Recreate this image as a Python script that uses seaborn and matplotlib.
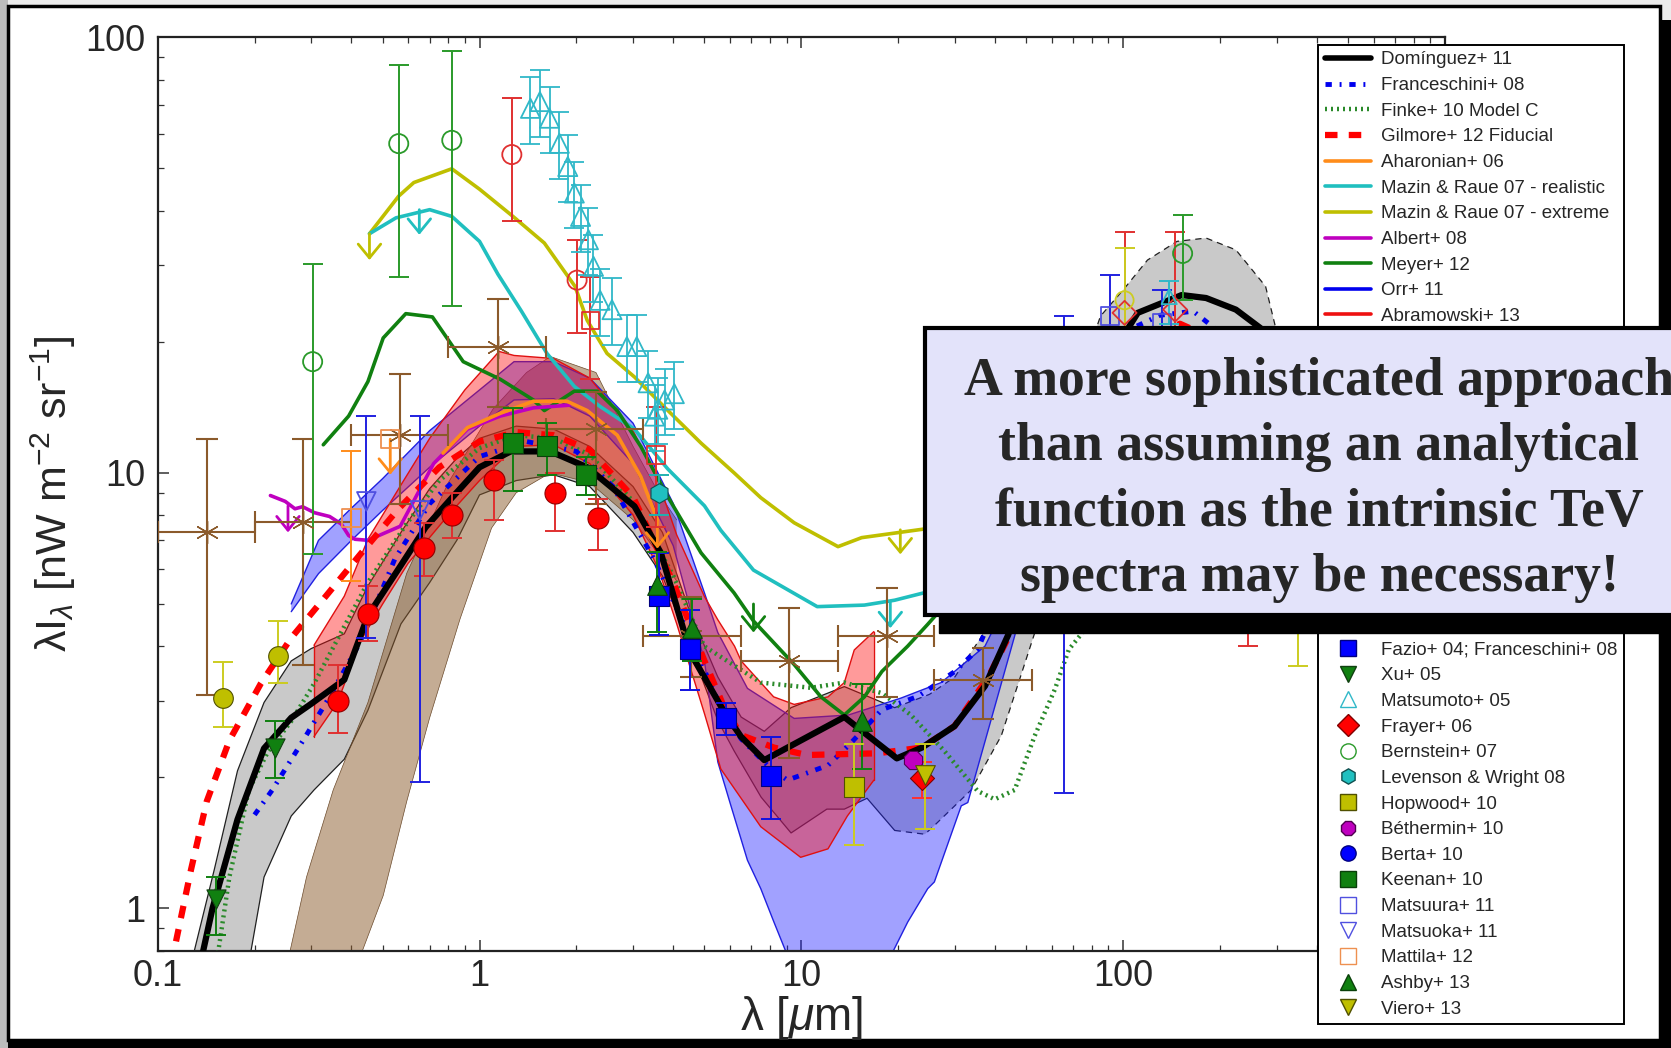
import numpy as np
import matplotlib
matplotlib.use("Agg")
import matplotlib.pyplot as plt
import seaborn as sns
from matplotlib.patches import Rectangle, Patch
from matplotlib.lines import Line2D
from matplotlib.ticker import FixedLocator, FixedFormatter, LogLocator, NullFormatter

# ------------------------------------------------------------------ data
# model curves
dom_x = [0.138, 0.148, 0.177, 0.214, 0.26, 0.30, 0.38, 0.45, 0.567, 0.68, 0.81, 1.0, 1.25, 1.66, 2.16, 3.03, 3.66, 4.52, 5.75, 6.49, 7.67, 13.6, 19.8, 23.7, 29.9, 37.2, 43.9, 55, 70, 85, 111, 152, 181, 224, 267, 350, 450]
dom_y = [0.79, 1.0, 1.6, 2.33, 2.74, 2.95, 3.35, 4.7, 6.1, 7.5, 8.67, 10.3, 11.2, 11.2, 10.3, 8.38, 6.55, 3.86, 2.83, 2.48, 2.19, 2.75, 2.21, 2.34, 2.62, 3.24, 4.24, 7.0, 12.0, 17.0, 23.3, 25.6, 25.2, 23.7, 21.5, 13, 7]

dom_up_x = [0.13, 0.150, 0.177, 0.214, 0.26, 0.30, 0.38, 0.45, 0.57, 0.7, 0.85, 1.0, 1.3, 1.7, 2.2, 3.0, 3.7, 4.5, 5.5, 6.5, 7.67, 9.29, 13.6, 19.5, 25, 30, 37, 45, 55, 70, 85, 100, 119, 147, 181, 224, 277, 297, 350, 420]
dom_up_y = [0.8, 1.23, 2.07, 2.97, 3.7, 3.95, 4.27, 5.5, 7.3, 9.2, 10.8, 12.0, 12.8, 12.6, 11.5, 9.3, 7.3, 4.8, 3.4, 2.75, 2.55, 2.89, 3.23, 2.89, 3.1, 3.4, 4.3, 6.0, 9, 15, 22.9, 26.3, 30.8, 34.0, 34.6, 32.5, 26.8, 21.7, 13, 7]
dom_lo_x = [0.195, 0.214, 0.26, 0.306, 0.38, 0.45, 0.57, 0.7, 0.85, 1.0, 1.3, 1.7, 2.2, 3.0, 3.7, 4.5, 5.5, 6.18, 7.5, 9.29, 12, 13.6, 16, 19.5, 24.2, 25.9, 33.7, 41.8, 53.1, 65, 80, 100, 150, 200, 300, 420]
dom_lo_y = [0.8, 1.18, 1.63, 1.87, 2.2, 2.85, 4.5, 5.6, 7.0, 8.9, 9.6, 9.9, 9.3, 7.3, 5.8, 4.0, 2.7, 2.3, 1.8, 1.49, 1.69, 1.69, 1.79, 1.51, 1.48, 1.55, 1.87, 2.49, 4.29, 7, 11, 15, 18, 16, 10, 6]

fra_x = [0.2, 0.227, 0.283, 0.342, 0.426, 0.546, 0.7, 1.0, 1.4, 2.0, 2.6, 3.5, 4.5, 5.5, 6.5, 8.0, 9.05, 12.1, 14.2, 17.8, 23.1, 30, 35.3, 45, 60, 80, 100, 130, 165, 200, 280]
fra_y = [1.64, 1.87, 2.43, 3.06, 4.09, 6.35, 8.5, 10.9, 11.8, 11.2, 9.3, 6.3, 4.2, 3.0, 2.45, 2.1, 1.97, 2.13, 2.39, 2.86, 3.07, 3.5, 3.93, 6, 11, 17, 21, 23, 23.5, 21, 13]

fin_x = [0.154, 0.167, 0.192, 0.22, 0.26, 0.306, 0.38, 0.45, 0.59, 0.75, 1.0, 1.3, 1.7, 2.2, 3.0, 4.0, 4.99, 7.48, 10.7, 13.6, 17.8, 21.9, 27.8, 35.3, 39.9, 46, 53.1, 61.3, 67.8, 74.6, 90, 120, 160, 220, 300]
fin_y = [0.79, 1.18, 1.87, 2.29, 2.69, 3.28, 4.44, 5.6, 7.6, 9.6, 11.4, 12.2, 12.0, 11.0, 8.6, 5.8, 4.0, 3.30, 3.21, 3.30, 3.12, 2.78, 2.3, 1.86, 1.78, 1.87, 2.49, 3.18, 3.93, 4.29, 7, 14, 20, 19, 12]

gil_x = [0.114, 0.127, 0.142, 0.167, 0.209, 0.26, 0.333, 0.426, 0.56, 0.75, 1.0, 1.3, 1.7, 2.2, 3.0, 4.0, 5.0, 5.75, 6.5, 8.22, 10.4, 17.2, 23.7, 29.9, 38.2, 44.7, 60, 80, 110, 150, 200, 300]
gil_y = [0.84, 1.23, 1.76, 2.43, 3.28, 4.18, 5.21, 6.5, 8.27, 10.3, 11.8, 12.4, 12.2, 11.3, 8.8, 5.6, 3.7, 2.9, 2.5, 2.34, 2.25, 2.27, 2.34, 2.62, 3.41, 4.29, 8, 13, 19, 22, 20, 12]

aha_x = [0.77, 0.917, 1.16, 1.47, 1.87, 2.16, 2.68, 3.17, 3.57]
aha_y = [11.1, 12.7, 13.7, 14.6, 14.6, 13.9, 12.2, 9.8, 7.8]

mrr_x = [0.455, 0.55, 0.70, 0.82, 1.0, 1.14, 1.35, 1.62, 1.97, 2.37, 3.03, 3.85, 5.0, 5.62, 7.1, 11.2, 15.7, 19.5, 24.7, 35, 50]
mrr_y = [35.4, 38.5, 40.2, 38.8, 34, 28.6, 23.5, 18.8, 15.8, 14.2, 12.6, 10.2, 8.4, 7.38, 5.98, 4.93, 4.97, 5.1, 5.33, 6, 7]

mre_x = [0.455, 0.561, 0.625, 0.82, 1.0, 1.27, 1.59, 1.98, 2.16, 2.49, 3.03, 3.85, 4.88, 6.18, 7.48, 9.5, 13.0, 15.4, 24.7, 35, 50]
mre_y = [35.4, 43.2, 46.4, 49.9, 44.8, 38.8, 33.7, 26.8, 22.4, 18.8, 16.6, 13.9, 11.7, 10.0, 8.77, 7.68, 6.77, 7.1, 7.45, 8, 9]

alb_x = [0.224, 0.249, 0.267, 0.282, 0.307, 0.342, 0.372, 0.392, 0.41, 0.45, 0.567, 0.72, 0.917, 1.16, 1.47, 1.9]
alb_y = [8.87, 8.6, 8.27, 8.36, 8.1, 7.94, 7.63, 7.18, 7.04, 7.0, 7.54, 10.5, 12.6, 13.5, 14.1, 14.3]

mey_x = [0.327, 0.392, 0.45, 0.502, 0.59, 0.714, 0.89, 1.16, 1.47, 1.59, 1.97, 2.32, 2.68, 3.17, 3.85, 4.88, 6.18, 7.1, 9.5, 11.5, 13.6, 15.7, 17.8, 21.4, 24.7, 35]
mey_y = [11.6, 13.5, 16.2, 20.4, 23.2, 22.8, 18.0, 16.4, 14.7, 13.9, 15.4, 15.4, 13.9, 11.5, 8.8, 6.55, 5.3, 4.57, 3.63, 3.06, 2.78, 3.06, 3.5, 4.0, 4.49, 6]

# shaded bands
orr_up_x = [0.26, 0.316, 0.4, 0.5, 0.7, 1.0, 1.28, 1.7, 2.2, 3.0, 4.0, 5.0, 5.5, 6.8, 9.5, 14, 20.4, 27.2, 37.2, 46, 55, 65]
orr_up_y = [5.0, 7.0, 8.3, 9.7, 12.5, 15.5, 18.0, 18.0, 16.5, 13.0, 8.5, 5.3, 4.3, 3.2, 2.73, 2.78, 3.04, 3.3, 4.0, 5.5, 8, 11]
orr_lo_x = [0.26, 0.316, 0.4, 0.5, 0.7, 1.0, 1.28, 1.7, 2.2, 3.0, 4.0, 5.0, 5.5, 6.0, 6.8, 7.48, 8.22, 9.05, 19.0, 21.4, 24.7, 25.9, 31.4, 32.9, 46.0, 55, 65]
orr_lo_y = [4.8, 5.87, 7.0, 8.2, 10.3, 12.8, 14.7, 14.8, 13.5, 10.5, 6.8, 3.7, 2.17, 1.75, 1.29, 1.11, 0.93, 0.78, 0.78, 0.93, 1.11, 1.15, 1.72, 1.75, 4.22, 7, 11]

abr_up_x = [0.306, 0.38, 0.45, 0.576, 0.7, 0.9, 1.1, 1.15, 1.28, 1.7, 2.2, 3.0, 3.6, 4.1, 5.0, 5.5, 6.2, 6.5, 8.2, 9.5, 12.1, 13.6, 14.6, 16.8]
abr_up_y = [4.02, 5.21, 7.04, 9.5, 12.0, 15.5, 18.3, 19.0, 18.6, 18.3, 16.5, 12.5, 9.5, 7.2, 5.2, 4.6, 4.0, 3.7, 3.06, 2.94, 3.06, 3.30, 3.92, 4.32]
abr_lo_x = [0.306, 0.362, 0.426, 0.5, 0.6, 0.8, 1.0, 1.3, 1.7, 2.2, 3.0, 3.6, 4.1, 5.0, 5.62, 7.48, 9.95, 12.1, 13.9, 16.8]
abr_lo_y = [2.48, 2.97, 4.1, 5.0, 6.2, 8.0, 9.6, 11.5, 11.6, 10.5, 8.0, 6.0, 4.5, 2.8, 2.09, 1.54, 1.31, 1.37, 1.63, 1.97]

ack_up_x = [0.257, 0.29, 0.351, 0.45, 0.594, 0.8, 1.1, 1.4, 1.66, 2.3, 3.0, 3.6, 4.1]
ack_up_y = [0.79, 1.18, 1.87, 2.97, 5.88, 9.5, 14, 17, 18.5, 17, 11.5, 9, 7.8]
ack_lo_x = [0.43, 0.502, 0.594, 0.70, 0.87, 1.09, 1.3, 1.66, 2.2, 3.0, 3.6, 4.1]
ack_lo_y = [0.79, 1.07, 1.76, 2.74, 4.62, 7.47, 9.0, 10.0, 9.5, 7.8, 6.5, 5.64]

# data points  (x, y, y_low, y_high)
faz_x = [3.6, 4.5, 5.83, 8.04]
faz_y = [5.21, 3.94, 2.73, 2.01]
faz_lo = [4.25, 3.18, 2.5, 1.6]
faz_hi = [6.55, 4.84, 2.96, 2.48]

xu_x = [0.152, 0.232]
xu_y = [1.05, 2.34]
xu_lo = [0.87, 1.99]
xu_hi = [1.18, 2.69]

mat5_x = [1.44, 1.54, 1.65, 1.77, 1.88, 1.97, 2.06, 2.18, 2.26, 2.37, 2.58, 2.87, 3.08, 3.34, 3.5, 3.58, 3.76, 4.03]
mat5_y = [68.7, 71.2, 65.2, 57.1, 50.5, 43.9, 38.8, 34.3, 29.8, 24.9, 23.7, 19.5, 19.5, 16.1, 13.5, 14.0, 14.7, 15.2]

fra6_x = [23.7]
fra6_y = [1.99]
fra6_lo = [1.79]
fra6_hi = [2.17]

ber7_x = [0.303, 0.561, 0.82]
ber7_y = [18.0, 57.0, 58.0]
ber7_lo = [6.5, 28.2, 24.2]
ber7_hi = [30.2, 86.4, 92.8]

lev_x = [3.6]
lev_y = [8.98]
lev_lo = [8.0]
lev_hi = [9.9]

hop_x = [14.6]
hop_y = [1.895]
hop_lo = [1.395]
hop_hi = [2.38]

bet_x = [22.2, 70, 160]
bet_y = [2.19, 7.0, 12.0]

berta_x = [100, 160]
berta_y = [11.0, 14.0]

kee_x = [1.27, 1.62, 2.14]
kee_y = [11.7, 11.5, 9.9]
kee_lo = [9.07, 9.9, 8.9]
kee_hi = [14.1, 13.0, 10.9]

mtu_x = [65.5, 91.2, 132]
mtu_y = [12.0, 22.9, 22.1]
mtu_lo = [1.84, 18.0, 18.0]
mtu_hi = [22.9, 28.5, 26.3]

mtk_x = [0.445, 0.653]
mtk_y = [8.6, 8.2]
mtk_lo = [4.18, 1.95]
mtk_hi = [13.5, 13.5]

mtl_x = [0.4, 0.528]
mtl_y = [7.86, 11.95]
mtl_lo = [5.65, 11.95]
mtl_hi = [11.2, 11.95]

ash_x = [3.57, 4.58, 15.4]
ash_y = [5.54, 4.4, 2.70]
ash_lo = [4.32, 3.7, 2.09]
ash_hi = [6.57, 5.13, 3.28]

vie_x = [24.2, 250, 350, 500]
vie_y = [2.02, 10.0, 6.5, 3.5]
vie_lo = [1.52, 5.0, 3.6, 2.0]
vie_hi = [2.38, 14.0, 9.0, 5.0]

# data sets whose legend entries sit under the text box
mp_x = [0.362, 0.45, 0.67, 0.82, 1.11, 1.71, 2.34]
mp_y = [3.0, 4.75, 6.73, 8.0, 9.64, 8.98, 7.87]
mp_lo = [2.53, 4.1, 5.79, 7.08, 7.8, 7.35, 6.66]
mp_hi = [3.63, 5.5, 7.68, 8.98, 10.7, 10.0, 8.7]

gar_x = [0.159, 0.237]
gar_y = [3.04, 3.8]
gar_lo = [2.61, 3.29]
gar_hi = [3.67, 4.57]

cam_x = [1.26, 2.01]
cam_y = [53.8, 27.7]
cam_lo = [37.8, 20.9]
cam_hi = [72.5, 34.3]

lev7_x = [2.21, 3.53]
lev7_y = [22.4, 11.0]
lev7_lo = [16.4, 7.5]
lev7_hi = [28.2, 14.2]

ast_x = [0.142, 0.282, 0.567, 1.14, 2.30, 4.54, 9.17, 18.5, 36.7]
ast_y = [7.33, 7.7, 12.2, 19.5, 12.6, 4.22, 3.7, 4.22, 3.35]
ast_xlo = [0.1, 0.2, 0.4, 0.797, 1.61, 3.21, 6.49, 13.0, 25.9]
ast_xhi = [0.2, 0.4, 0.797, 1.61, 3.21, 6.49, 13.0, 25.9, 51.9]
ast_lo = [3.09, 3.63, 8.5, 14.2, 8.5, 3.4, 2.21, 3.06, 2.72]
ast_hi = [11.95, 11.95, 16.9, 25.1, 15.3, 5.2, 4.89, 5.43, 3.96]

ode_x = [101, 145, 245]
ode_y = [23.3, 23.7, 8.0]
ode_lo = [15.0, 15.0, 4.0]
ode_hi = [35.8, 35.8, 11.0]

hau_x = [153]
hau_y = [31.9]
hau_lo = [25.0]
hau_hi = [39.1]

gor_x = [101]
gor_y = [24.9]
gor_lo = [19.0]
gor_hi = [32.8]

wri_x = [139]
wri_y = [25.4]
wri_lo = [22.0]
wri_hi = [27.5]

# upper-limit arrows: x, start y, end y
arr_x = [0.455, 0.65, 0.528, 0.254, 3.57, 7.1, 18.9, 20.3]
arr_y0 = [35.4, 40.2, 11.95, 8.4, 7.8, 5.0, 5.06, 7.4]
arr_y1 = [30.8, 35.2, 9.9, 7.3, 6.7, 4.3, 4.4, 6.5]
arr_c = ['#bfbf00', '#20bfbf', '#ff8c1a', '#bf00bf', '#ff8c1a', '#108010', '#20bfbf', '#bfbf00']

tick_x = [0.1, 1, 10, 100]
tick_x_lab = ['0.1', '1', '10', '100']
tick_y = [1, 10, 100]
tick_y_lab = ['1', '10', '100']

# ------------------------------------------------------------------ style
sns.set_style("ticks")
plt.rcParams['font.family'] = ['Liberation Sans', 'DejaVu Sans']
plt.rcParams['mathtext.fontset'] = 'custom'
plt.rcParams['mathtext.rm'] = 'Liberation Sans'
plt.rcParams['mathtext.it'] = 'Liberation Sans:italic'
plt.rcParams['mathtext.bf'] = 'Liberation Sans:bold'

W, H = 1671, 1048
fig = plt.figure(figsize=(W / 100, H / 100), dpi=100)
fig.patch.set_facecolor('#ececec')


def fx(px):
    return px / W


def fy(py):
    return 1 - py / H


# slide frame
fig.add_artist(Rectangle((0, 0), fx(8), 1, transform=fig.transFigure,
                         facecolor='#bcbcbc', edgecolor='none', zorder=-5))
fig.add_artist(Rectangle((fx(8), -0.05), 1.0, fy(20) + 0.05, transform=fig.transFigure,
                         facecolor='black', edgecolor='none', zorder=-4))
fig.add_artist(Rectangle((fx(8), fy(1040)), fx(1660 - 8), (1040 - 6) / H,
                         transform=fig.transFigure, facecolor='white',
                         edgecolor='black', lw=2.5, zorder=-3))

ax = fig.add_axes([157.7 / W, 1 - 950.6 / H, (1445 - 157.7) / W, (950.6 - 37.3) / H])
ax.set_facecolor('white')
ax.set_xscale('log')
ax.set_yscale('log')


def edge(x, y, ec, lw, split, z):
    x = np.asarray(x, float)
    y = np.asarray(y, float)
    if split is None:
        ax.plot(x, y, color=ec, lw=lw, zorder=z)
        return
    a = x <= split
    b = x >= x[a][-1]
    ax.plot(x[a], y[a], color=ec, lw=lw, zorder=z)
    ax.plot(x[b], y[b], color=ec, lw=lw, ls=(0, (5, 4)), zorder=z)


def band(xu, yu, xl, yl, fc, alpha, ec, lw=0.8, z=1, split=None):
    px = list(xu) + list(xl)[::-1]
    py = list(yu) + list(yl)[::-1]
    ax.fill(px, py, facecolor=fc, alpha=alpha, edgecolor='none', zorder=z)
    edge(xu, yu, ec, lw, split, z + 0.1)
    edge(xl, yl, ec, lw, split, z + 0.1)


band(dom_up_x, dom_up_y, dom_lo_x, dom_lo_y, '#808080', 0.42, '#202020', lw=0.9, z=1, split=22)
band(ack_up_x, ack_up_y, ack_lo_x, ack_lo_y, '#8b5a2b', 0.5, '#6b4a2b', lw=0.5, z=1.2)
band(orr_up_x, orr_up_y, orr_lo_x, orr_lo_y, '#2020ff', 0.42, '#2020e0', lw=1.0, z=1.4)
band(abr_up_x, abr_up_y, abr_lo_x, abr_lo_y, '#ff1010', 0.42, '#e01010', lw=1.0, z=1.6)
ax.plot([abr_up_x[0], abr_lo_x[0]], [abr_up_y[0], abr_lo_y[0]], color='#e01010', lw=1.0, zorder=1.7)
ax.plot([abr_up_x[-1], abr_lo_x[-1]], [abr_up_y[-1], abr_lo_y[-1]], color='#e01010', lw=1.0, zorder=1.7)


def line(x, y, color, lw, ls='-', z=3):
    sns.lineplot(x=x, y=y, ax=ax, color=color, lw=lw, linestyle=ls, sort=False,
                 estimator=None, legend=False, zorder=z)


line(mre_x, mre_y, '#bfbf00', 2.6)
line(mrr_x, mrr_y, '#20bfbf', 2.6)
line(mey_x, mey_y, '#108010', 2.6)
line(alb_x, alb_y, '#bf00bf', 2.6)
line(aha_x, aha_y, '#ff8c1a', 2.6)
FRA_LS = (0, (1.3, 1.6, 0.4, 1.6))
FIN_LS = (0, (0.45, 0.9))
GIL_LS = (0, (2.0, 1.8))
line(fin_x, fin_y, '#2a8a2a', 3.2, FIN_LS, z=3.2)
line(fra_x, fra_y, '#0000ee', 3.5, FRA_LS, z=3.3)
line(gil_x, gil_y, '#ff0000', 4.5, GIL_LS, z=3.4)
line(dom_x, dom_y, 'black', 4.5, '-', z=3.5)

for x, y0, y1, c in zip(arr_x, arr_y0, arr_y1, arr_c):
    ax.annotate('', xy=(x, y1), xytext=(x, y0),
                arrowprops=dict(arrowstyle='->,head_length=0.55,head_width=0.45',
                                color=c, lw=2.0, shrinkA=0, shrinkB=0,
                                mutation_scale=18), zorder=3.6)


def ebar(x, y, lo, hi, color, xlo=None, xhi=None, lw=1.4, cap=7):
    x = np.asarray(x, float)
    y = np.asarray(y, float)
    yerr = [y - np.asarray(lo, float), np.asarray(hi, float) - y]
    xerr = None
    if xlo is not None:
        xerr = [x - np.asarray(xlo, float), np.asarray(xhi, float) - x]
    ax.errorbar(x, y, yerr=yerr, xerr=xerr, fmt='none', ecolor=color,
                elinewidth=lw, capsize=cap, capthick=lw, zorder=4)


def pts(x, y, marker, size, fc, ec, lw=0.8):
    sns.scatterplot(x=x, y=y, ax=ax, marker=marker, s=size, facecolor=fc,
                    edgecolor=ec, linewidth=lw, legend=False, zorder=5)


BROWN = '#8b5a2b'
ebar(ast_x, ast_y, ast_lo, ast_hi, BROWN, ast_xlo, ast_xhi, lw=1.5, cap=8)
pts(ast_x, ast_y, (6, 2, 0), 260, BROWN, BROWN, lw=1.0)

ebar(ber7_x, ber7_y, ber7_lo, ber7_hi, '#2a9a2a')
pts(ber7_x, ber7_y, 'o', 190, 'none', '#2a9a2a', lw=1.3)
ebar(cam_x, cam_y, cam_lo, cam_hi, '#e03030')
pts(cam_x, cam_y, 'o', 190, 'none', '#e03030', lw=1.3)
ebar(lev7_x, lev7_y, lev7_lo, lev7_hi, '#e03030')
pts(lev7_x, lev7_y, 's', 160, 'none', '#e03030', lw=1.3)

mat5_lo = [v * 0.83 for v in mat5_y]
mat5_hi = [v * 1.18 for v in mat5_y]
ebar(mat5_x, mat5_y, mat5_lo, mat5_hi, '#30b8c8', lw=1.3, cap=7)
pts(mat5_x, mat5_y, '^', 190, 'none', '#30b8c8', lw=1.3)

ebar(mp_x, mp_y, mp_lo, mp_hi, '#e03030')
pts(mp_x, mp_y, 'o', 230, '#ff0000', '#900000', lw=0.8)
ebar(gar_x, gar_y, gar_lo, gar_hi, '#cccc20')
pts(gar_x, gar_y, 'o', 200, '#bfbf00', '#505000', lw=0.8)
ebar(xu_x, xu_y, xu_lo, xu_hi, '#108010')
pts(xu_x, xu_y, 'v', 190, '#108010', '#104010', lw=0.8)

ebar(mtk_x, mtk_y, mtk_lo, mtk_hi, '#2020e0')
pts(mtk_x, mtk_y, 'v', 180, 'none', '#5050e0', lw=1.3)
ebar(mtl_x[:1], mtl_y[:1], mtl_lo[:1], mtl_hi[:1], '#ff8c1a')
pts(mtl_x, mtl_y, 's', 170, 'none', '#ee9050', lw=1.3)

ebar(kee_x, kee_y, kee_lo, kee_hi, '#108010')
pts(kee_x, kee_y, 's', 200, '#108010', '#0a400a', lw=0.8)

ebar(lev_x, lev_y, lev_lo, lev_hi, '#20b0b0')
pts(lev_x, lev_y, 'h', 200, '#20c0c0', '#105050', lw=0.8)

ebar(faz_x, faz_y, faz_lo, faz_hi, '#1010e0')
pts(faz_x, faz_y, 's', 200, '#0000ff', '#000080', lw=0.8)
ebar(ash_x, ash_y, ash_lo, ash_hi, '#108010')
pts(ash_x, ash_y, '^', 200, '#108010', '#0a400a', lw=0.8)

ebar(hop_x, hop_y, hop_lo, hop_hi, '#cccc20')
pts(hop_x, hop_y, 's', 200, '#bfbf00', '#505000', lw=0.8)
ebar(fra6_x, fra6_y, fra6_lo, fra6_hi, '#ff3030')
pts(fra6_x, fra6_y, 'D', 150, '#ff0000', '#800000', lw=0.8)
pts(bet_x, bet_y, '8', 200, '#bf00bf', '#500050', lw=0.8)
pts(berta_x, berta_y, 'o', 200, '#0000ff', '#000080', lw=0.8)
ebar(vie_x, vie_y, vie_lo, vie_hi, '#cccc20')
pts(vie_x, vie_y, 'v', 200, '#bfbf00', '#505000', lw=0.8)

ebar(mtu_x, mtu_y, mtu_lo, mtu_hi, '#2020e0')
pts(mtu_x, mtu_y, 's', 170, 'none', '#5050e0', lw=1.3)
ebar(ode_x, ode_y, ode_lo, ode_hi, '#e03030')
pts(ode_x, ode_y, 'D', 150, 'none', '#e03030', lw=1.3)
ebar(hau_x, hau_y, hau_lo, hau_hi, '#2a9a2a')
pts(hau_x, hau_y, 'o', 190, 'none', '#2a9a2a', lw=1.3)
ebar(gor_x, gor_y, gor_lo, gor_hi, '#cccc20')
pts(gor_x, gor_y, 'o', 170, 'none', '#cccc20', lw=1.3)
ebar(wri_x, wri_y, wri_lo, wri_hi, '#30b8c8')
pts(wri_x, wri_y, '^', 120, 'none', '#30b8c8', lw=1.3)

# ------------------------------------------------------------------ axes
ax.set_xlim(0.1, 1000)
ax.set_ylim(0.8, 100)
ax.xaxis.set_major_locator(FixedLocator(tick_x))
ax.xaxis.set_major_formatter(FixedFormatter(tick_x_lab))
ax.yaxis.set_major_locator(FixedLocator(tick_y))
ax.yaxis.set_major_formatter(FixedFormatter(tick_y_lab))
ax.xaxis.set_minor_locator(LogLocator(base=10, subs=np.arange(2, 10), numticks=20))
ax.yaxis.set_minor_locator(LogLocator(base=10, subs=np.arange(2, 10), numticks=20))
ax.xaxis.set_minor_formatter(NullFormatter())
ax.yaxis.set_minor_formatter(NullFormatter())
ax.tick_params(which='both', direction='in', top=True, right=True, color='#333333')
ax.tick_params(which='major', length=8, width=1.1, labelsize=26, pad=9)
ax.tick_params(axis='x', which='major', pad=6)
ax.tick_params(which='minor', length=4.5, width=0.9)
for s in ax.spines.values():
    s.set_linewidth(1.6)
    s.set_color('#222222')

ax.set_xlabel(r'λ [$\mu$m]', fontsize=33)
ax.xaxis.set_label_coords(0.5, -0.047)
ax.set_ylabel(r'λI$_{λ}$ [nW m$^{-2}$ sr$^{-1}$]', fontsize=31)
ax.yaxis.set_label_coords(-0.062, 0.5)
ax.xaxis.label.set_va('top')

# ------------------------------------------------------------------ legend
MS = 11
handles = [
    Line2D([], [], color='black', lw=4),
    Line2D([], [], color='#0000ee', lw=3.5, ls=FRA_LS),
    Line2D([], [], color='#2a8a2a', lw=3.2, ls=FIN_LS),
    Line2D([], [], color='#ff0000', lw=4.5, ls=GIL_LS),
    Line2D([], [], color='#ff8c1a', lw=2.6),
    Line2D([], [], color='#20bfbf', lw=2.6),
    Line2D([], [], color='#bfbf00', lw=2.6),
    Line2D([], [], color='#bf00bf', lw=2.6),
    Line2D([], [], color='#108010', lw=2.6),
    Line2D([], [], color='#0000ee', lw=2.6),
    Line2D([], [], color='#ee1010', lw=2.6),
    # rows that lie under the text box
    Patch(facecolor='#8b5a2b', alpha=0.5),
    Line2D([], [], marker='o', ls='none', ms=MS, mfc='#ff0000', mec='#900000'),
    Line2D([], [], marker='o', ls='none', ms=MS, mfc='#bfbf00', mec='#505000'),
    Line2D([], [], marker='o', ls='none', ms=MS, mfc='none', mec='#e03030'),
    Line2D([], [], marker='s', ls='none', ms=MS, mfc='none', mec='#e03030'),
    Line2D([], [], marker=(6, 2, 0), ls='none', ms=MS + 3, mfc=BROWN, mec=BROWN),
    Line2D([], [], marker='o', ls='none', ms=MS, mfc='none', mec='#2a9a2a'),
    Line2D([], [], marker='o', ls='none', ms=MS, mfc='none', mec='#cccc20'),
    Line2D([], [], marker='^', ls='none', ms=MS, mfc='none', mec='#30b8c8'),
    Line2D([], [], marker='D', ls='none', ms=MS - 1, mfc='none', mec='#e03030'),
    Line2D([], [], marker='s', ls='none', ms=MS, mfc='none', mec='#2a9a2a'),
    Line2D([], [], marker='D', ls='none', ms=MS - 1, mfc='#ff0000', mec='#800000'),
    # visible bottom part
    Line2D([], [], marker='s', ls='none', ms=MS, mfc='#0000ff', mec='#000080'),
    Line2D([], [], marker='v', ls='none', ms=MS, mfc='#108010', mec='#104010'),
    Line2D([], [], marker='^', ls='none', ms=MS, mfc='none', mec='#30b8c8'),
    Line2D([], [], marker='D', ls='none', ms=MS, mfc='#ff0000', mec='#800000'),
    Line2D([], [], marker='o', ls='none', ms=MS, mfc='none', mec='#2a9a2a'),
    Line2D([], [], marker='h', ls='none', ms=MS, mfc='#20c0c0', mec='#105050'),
    Line2D([], [], marker='s', ls='none', ms=MS, mfc='#bfbf00', mec='#505000'),
    Line2D([], [], marker='8', ls='none', ms=MS, mfc='#bf00bf', mec='#500050'),
    Line2D([], [], marker='o', ls='none', ms=MS, mfc='#0000ff', mec='#000080'),
    Line2D([], [], marker='s', ls='none', ms=MS, mfc='#108010', mec='#0a400a'),
    Line2D([], [], marker='s', ls='none', ms=MS, mfc='none', mec='#5050e0'),
    Line2D([], [], marker='v', ls='none', ms=MS, mfc='none', mec='#5050e0'),
    Line2D([], [], marker='s', ls='none', ms=MS, mfc='none', mec='#ee9050'),
    Line2D([], [], marker='^', ls='none', ms=MS, mfc='#108010', mec='#0a400a'),
    Line2D([], [], marker='v', ls='none', ms=MS, mfc='#bfbf00', mec='#505000'),
]
labels = [
    'Domínguez+ 11', 'Franceschini+ 08', 'Finke+ 10 Model C', 'Gilmore+ 12 Fiducial',
    'Aharonian+ 06', 'Mazin & Raue 07 - realistic', 'Mazin & Raue 07 - extreme',
    'Albert+ 08', 'Meyer+ 12', 'Orr+ 11', 'Abramowski+ 13',
] + [' '] * 12 + [
    'Fazio+ 04; Franceschini+ 08', 'Xu+ 05', 'Matsumoto+ 05', 'Frayer+ 06',
    'Bernstein+ 07', 'Levenson & Wright 08', 'Hopwood+ 10', 'Béthermin+ 10',
    'Berta+ 10', 'Keenan+ 10', 'Matsuura+ 11', 'Matsuoka+ 11', 'Mattila+ 12',
    'Ashby+ 13', 'Viero+ 13',
]
leg = ax.legend(handles, labels, loc='upper left', bbox_to_anchor=(1318 / W, 1 - 44.8 / H),
                bbox_transform=fig.transFigure, fontsize=13.5, frameon=True,
                fancybox=False, framealpha=1, edgecolor='black', facecolor='white',
                labelspacing=0.455, borderpad=0.35, handlelength=2.45, handletextpad=0.57,
                borderaxespad=0, numpoints=1)
leg.get_frame().set_linewidth(1.4)
leg.set_zorder(10)

# ------------------------------------------------------------------ overlay text box
fig.add_artist(Rectangle((fx(939), fy(633)), (1720 - 925) / W, (615 - 328) / H,
                         transform=fig.transFigure, facecolor='black',
                         edgecolor='black', zorder=30))
fig.add_artist(Rectangle((fx(925), fy(615)), (1720 - 925) / W, (615 - 328) / H,
                         transform=fig.transFigure, facecolor='#e3e3fa',
                         edgecolor='black', lw=3, zorder=31))
fig.text(fx(1319), fy(480),
         'A more sophisticated approach\nthan assuming an analytical\n'
         'function as the intrinsic TeV\nspectra may be necessary!',
         ha='center', va='center', fontsize=38.7, fontweight='bold',
         family=['Liberation Serif', 'DejaVu Serif'], linespacing=1.40, zorder=32)

fig.savefig('out.png', dpi=100, facecolor=fig.get_facecolor())
